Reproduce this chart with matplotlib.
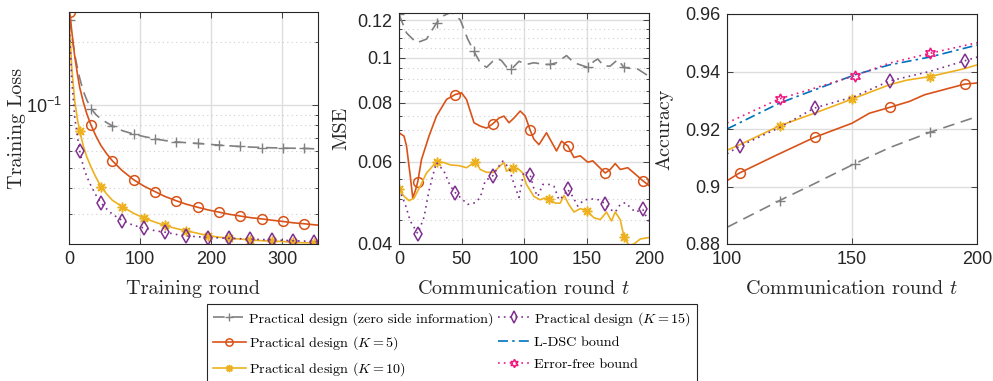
import numpy as np
import matplotlib
matplotlib.use("Agg")
import matplotlib.pyplot as plt
from matplotlib.ticker import FixedLocator, MultipleLocator, NullFormatter, FuncFormatter
from matplotlib.lines import Line2D

plt.rcParams["font.family"] = ["Liberation Sans", "DejaVu Sans"]
plt.rcParams["mathtext.fontset"] = "custom"
plt.rcParams["mathtext.rm"] = "Liberation Sans"
plt.rcParams["mathtext.it"] = "Liberation Sans:italic"
plt.rcParams["axes.unicode_minus"] = True

# colours (MATLAB defaults)
C_GRAY = "#808080"
C_ORANGE = "#D95319"
C_YELLOW = "#EDB120"
C_PURPLE = "#7E2F8E"
C_BLUE = "#0072BD"
C_PINK = "#F0147D"
C_AX = "#262626"

LABELS = ["Practical design (zero side information)",
          "Practical design ($K = 5$)",
          "Practical design ($K = 10$)",
          "Practical design ($K = 15$)",
          "L-DSC bound",
          "Error-free bound"]

# ---------------- left panel: training loss ----------------
L_X = [1, 4, 8, 12, 15, 20, 25, 31, 38, 45, 53, 61, 75, 91, 105, 121, 135, 151, 165, 181,
       195, 211, 225, 241, 255, 271, 285, 301, 315, 331, 345, 350]
L_GRAY = [0.255, 0.215, 0.175, 0.15, 0.135, 0.117, 0.106, 0.0964, 0.090, 0.086, 0.0825, 0.0796,
          0.0755, 0.0727, 0.0708, 0.0690, 0.0677, 0.0667, 0.0661, 0.0656, 0.0650, 0.0644, 0.0639,
          0.0634, 0.0630, 0.0627, 0.0625, 0.0623, 0.0622, 0.0621, 0.0618, 0.0617]
L_ORANGE = [0.28, 0.225, 0.172, 0.14, 0.122, 0.104, 0.091, 0.0802, 0.071, 0.064, 0.0585, 0.0541,
            0.0485, 0.0439, 0.041, 0.0385, 0.0365, 0.0348, 0.0335, 0.0324, 0.0315, 0.0307, 0.0300,
            0.0294, 0.0289, 0.0285, 0.0281, 0.0277, 0.0273, 0.027, 0.0267, 0.0266]
L_YELLOW = [0.229, 0.15, 0.105, 0.085, 0.0754, 0.064, 0.0565, 0.0505, 0.045, 0.0407, 0.0375, 0.035,
            0.0326, 0.0303, 0.0288, 0.0275, 0.0265, 0.0256, 0.025, 0.0243, 0.0237, 0.0233, 0.023,
            0.0228, 0.0226, 0.0224, 0.0223, 0.0222, 0.0220, 0.0219, 0.0219, 0.0218]
L_PURPLE = [0.218, 0.13, 0.088, 0.07, 0.0605, 0.051, 0.0455, 0.041, 0.037, 0.034, 0.0318, 0.030,
            0.028, 0.0265, 0.0258, 0.025, 0.0246, 0.024, 0.0236, 0.0234, 0.0232, 0.0231, 0.023,
            0.0229, 0.0228, 0.0227, 0.0226, 0.0225, 0.0224, 0.0223, 0.0222, 0.0222]
L_MARK_A = [1, 31, 61, 91, 121, 151, 181, 211, 241, 271, 301, 331]
L_MARK_B = [15, 45, 75, 105, 135, 165, 195, 225, 255, 285, 315, 345]

# ---------------- middle panel: MSE ----------------
MG_X = [0, 6, 14, 22, 30, 36, 42, 49, 55, 60, 65, 70, 75, 79, 82, 86, 90, 96, 102, 108, 116, 121,
        126, 134, 140, 151, 156, 159, 164, 169, 175, 180, 185, 191, 200]
MG_Y = [0.1236, 0.1129, 0.1075, 0.1095, 0.1185, 0.123, 0.125, 0.1204, 0.1095, 0.1031, 0.0974,
        0.0953, 0.0982, 0.0995, 0.0985, 0.0955, 0.0945, 0.0982, 0.0967, 0.0975, 0.0967, 0.0967,
        0.0975, 0.101, 0.0975, 0.0953, 0.0982, 0.0993, 0.0959, 0.0959, 0.099, 0.0953, 0.0948,
        0.0945, 0.0912]
MO_X = [0, 4, 6, 9, 11, 13, 15, 18, 24, 30, 38, 45, 50, 54, 60, 65, 70, 75, 80, 84, 88, 92, 97,
        101, 105, 108, 112, 118, 126, 130, 135, 140, 145, 151, 155, 160, 165, 169, 173, 177, 183,
        188, 195, 200]
MO_Y = [0.0691, 0.0680, 0.0648, 0.0559, 0.0502, 0.0519, 0.0543, 0.0606, 0.068, 0.075, 0.0814,
        0.0834, 0.0841, 0.0814, 0.0726, 0.0714, 0.0707, 0.0722, 0.0743, 0.075, 0.0726, 0.0743,
        0.0769, 0.075, 0.0699, 0.0669, 0.0652, 0.0691, 0.0632, 0.0663, 0.0648, 0.0612, 0.0617,
        0.0598, 0.0602, 0.0584, 0.0567, 0.0577, 0.0594, 0.0577, 0.0582, 0.0567, 0.0546, 0.0533]
MY_X = [0, 4, 8, 12, 17, 22, 30, 36, 41, 48, 54, 61, 65, 70, 76, 81, 84, 86, 91, 96, 99, 102, 108,
        113, 116, 120, 125, 129, 132, 136, 140, 145, 150, 156, 161, 166, 170, 173, 177, 180, 184,
        188, 193, 200]
MY_Y = [0.0524, 0.0506, 0.0495, 0.0501, 0.0532, 0.0567, 0.0599, 0.0597, 0.059, 0.0588, 0.0582,
        0.0599, 0.0577, 0.0569, 0.0569, 0.0588, 0.0597, 0.0572, 0.0582, 0.0577, 0.0567, 0.0536,
        0.0505, 0.0497, 0.0501, 0.0499, 0.0489, 0.0489, 0.0508, 0.0485, 0.0468, 0.0476, 0.0471,
        0.0455, 0.0451, 0.0468, 0.0448, 0.0468, 0.0451, 0.0414, 0.0397, 0.040, 0.041, 0.0413]
MP_X = [0, 5, 9, 15, 20, 24, 28, 30, 36, 41, 45, 49, 55, 61, 65, 69, 75, 79, 83, 88, 92, 96, 100,
        105, 108, 111, 115, 120, 124, 128, 131, 135, 139, 143, 148, 155, 160, 165, 169, 173, 177,
        181, 185, 189, 195, 200]
MP_Y = [0.0524, 0.0486, 0.0448, 0.0421, 0.0456, 0.052, 0.0572, 0.0597, 0.0572, 0.0532, 0.0515,
        0.0503, 0.0486, 0.049, 0.0503, 0.0546, 0.0559, 0.0582, 0.0601, 0.0582, 0.0537, 0.0503,
        0.0572, 0.0561, 0.0524, 0.0505, 0.0536, 0.0536, 0.0531, 0.0497, 0.0505, 0.0523, 0.0505,
        0.0482, 0.0497, 0.0499, 0.0497, 0.0487, 0.0474, 0.0468, 0.0486, 0.049, 0.0479, 0.0468,
        0.0474, 0.0445]
MG_MARK = [0, 30, 60, 90, 121, 151, 180]
MO_MARK = [15, 45, 75, 105, 135, 165, 195]
MY_MARK = [0, 30, 61, 91, 120, 150, 180]
MP_MARK = [15, 45, 75, 105, 135, 165, 195]

# ---------------- right panel: accuracy ----------------
RG_X = [100, 121, 135, 151, 165, 181, 200]
RG_Y = [0.8858, 0.8951, 0.9010, 0.9079, 0.9135, 0.9188, 0.9243]
RO_X = [100, 105, 120, 135, 150, 157, 165, 173, 179, 195, 200]
RO_Y = [0.902, 0.9047, 0.911, 0.9171, 0.922, 0.9255, 0.9275, 0.9296, 0.9319, 0.9356, 0.936]
RY_X = [100, 105, 121, 135, 150, 165, 172, 181, 195, 200]
RY_Y = [0.9126, 0.9145, 0.9211, 0.9255, 0.9304, 0.9354, 0.937, 0.9382, 0.941, 0.9423]
RP_X = [100, 105, 121, 135, 151, 165, 181, 195, 200]
RP_Y = [0.9114, 0.914, 0.9205, 0.9273, 0.9313, 0.9367, 0.940, 0.9437, 0.945]
RB_X = [100, 121, 135, 151, 165, 181, 200]
RB_Y = [0.920, 0.929, 0.9336, 0.9388, 0.9423, 0.945, 0.9492]
RE_X = [100, 121, 135, 151, 165, 181, 200]
RE_Y = [0.9221, 0.9305, 0.9342, 0.9385, 0.9429, 0.9463, 0.950]
RG_MARK = [121, 151, 181]
RO_MARK = [105, 135, 165, 195]
RY_MARK = [121, 150, 181]
RP_MARK = [105, 135, 165, 195]
RE_MARK = [121, 151, 181]

HEX = (6, 1, 0)
AST = (8, 2, 0)
STYLE = {
    "gray": dict(color=C_GRAY, ls=(0, (7, 4)), marker="+", ms=7, mew=1.0),
    "orange": dict(color=C_ORANGE, ls="-", marker="o", ms=7, mfc="none", mew=1.1),
    "yellow": dict(color=C_YELLOW, ls="-", marker=AST, ms=7, mew=1.1),
    "purple": dict(color=C_PURPLE, ls=(0, (1, 2.5)), marker="d", ms=7.5, mfc="none", mew=1.1),
    "blue": dict(color=C_BLUE, ls=(0, (6, 2.5, 1.5, 2.5))),
    "pink": dict(color=C_PINK, ls=(0, (1, 2.5)), marker=HEX, ms=8, mfc="none", mew=1.1),
}


def idx(xs, marks):
    return [xs.index(v) for v in marks]


def draw(ax, xs, ys, key, marks=None):
    kw = dict(STYLE[key])
    if marks is None:
        kw.pop("marker", None)
        ax.plot(xs, ys, lw=1.2, **kw)
    else:
        ax.plot(xs, ys, lw=1.2, markevery=idx(xs, marks), **kw)


def style_axes(ax):
    for s in ax.spines.values():
        s.set_color(C_AX)
        s.set_linewidth(0.8)
    ax.tick_params(which="both", direction="in", top=True, right=True, colors=C_AX,
                   labelsize=13, width=0.6)
    ax.tick_params(which="major", length=4, pad=5)
    ax.tick_params(which="minor", length=2)
    ax.grid(which="major", color="#DEDEDE", lw=1.0, ls="-")
    ax.set_axisbelow(True)


fig = plt.figure(figsize=(9.93, 3.81), dpi=100)
axL = fig.add_axes([69 / 993, 1 - 244 / 381, 249 / 993, 232 / 381])
axM = fig.add_axes([399 / 993, 1 - 244 / 381, 250 / 993, 231 / 381])
axR = fig.add_axes([727 / 993, 1 - 244 / 381, 250 / 993, 230 / 381])

lab = dict(fontfamily="cmr10", fontsize=14.5, math_fontfamily="cm", color=C_AX)

# left
draw(axL, L_X, L_GRAY, "gray", L_MARK_A)
draw(axL, L_X, L_ORANGE, "orange", L_MARK_A)
draw(axL, L_X, L_YELLOW, "yellow", L_MARK_B)
draw(axL, L_X, L_PURPLE, "purple", L_MARK_B)
axL.set_yscale("log")
axL.set_xlim(0, 350)
axL.set_ylim(0.0216, 0.28)
axL.xaxis.set_major_locator(FixedLocator([0, 100, 200, 300]))
axL.yaxis.set_minor_formatter(NullFormatter())
style_axes(axL)
axL.grid(which="minor", axis="y", color="#CFCFCF", lw=0.8, ls=(0, (1, 3)))
axL.set_xlabel("Training round", labelpad=9, **lab)
axL.set_ylabel("Training Loss", labelpad=0, **lab)

# middle
draw(axM, MG_X, MG_Y, "gray", MG_MARK)
draw(axM, MO_X, MO_Y, "orange", MO_MARK)
draw(axM, MY_X, MY_Y, "yellow", MY_MARK)
draw(axM, MP_X, MP_Y, "purple", MP_MARK)
axM.set_yscale("log")
axM.set_xlim(0, 200)
axM.set_ylim(0.04, 0.1245)
axM.yaxis.set_major_locator(FixedLocator([0.04, 0.06, 0.08, 0.1, 0.12]))
axM.yaxis.set_minor_locator(MultipleLocator(0.005))
axM.yaxis.set_major_formatter(FuncFormatter(lambda v, p: f"{v:g}"))
axM.yaxis.set_minor_formatter(NullFormatter())
axM.xaxis.set_major_locator(FixedLocator([0, 50, 100, 150, 200]))
style_axes(axM)
axM.grid(which="minor", axis="y", color="#CFCFCF", lw=0.8, ls=(0, (1, 3)))
axM.set_xlabel("Communication round $t$", labelpad=9, **lab)
axM.set_ylabel("MSE", labelpad=5, **lab)

# right
draw(axR, RG_X, RG_Y, "gray", RG_MARK)
draw(axR, RO_X, RO_Y, "orange", RO_MARK)
draw(axR, RY_X, RY_Y, "yellow", RY_MARK)
draw(axR, RP_X, RP_Y, "purple", RP_MARK)
draw(axR, RB_X, RB_Y, "blue")
draw(axR, RE_X, RE_Y, "pink", RE_MARK)
axR.set_xlim(100, 200)
axR.set_ylim(0.88, 0.96)
axR.xaxis.set_major_locator(FixedLocator([100, 150, 200]))
axR.yaxis.set_major_locator(FixedLocator([0.88, 0.9, 0.92, 0.94, 0.96]))
axR.yaxis.set_major_formatter(FuncFormatter(lambda v, p: f"{v:g}"))
style_axes(axR)
axR.set_xlabel("Communication round $t$", labelpad=9, **lab)
axR.set_ylabel("Accuracy", labelpad=8, **lab)

# legend
handles = []
for key in ["gray", "orange", "yellow", "purple", "blue", "pink"]:
    kw = dict(STYLE[key])
    kw["ms"] = kw.get("ms", 6) * 0.75
    handles.append(Line2D([], [], lw=1.2, **kw))
leg = fig.legend(handles, LABELS, ncol=2, loc="upper left",
                 bbox_to_anchor=(207 / 993, 1 - 304 / 381), prop={"family": "cmr10", "size": 10.2},
                 frameon=True, fancybox=False, edgecolor=C_AX, framealpha=1,
                 handlelength=2.3, handletextpad=0.25, columnspacing=0.3, borderpad=0.42,
                 labelspacing=0.6, numpoints=1, borderaxespad=0)
leg.get_frame().set_linewidth(0.8)
for t in leg.get_texts():
    t.set_math_fontfamily("cm")
    t.set_color("black")

fig.savefig("out.png", dpi=100)
